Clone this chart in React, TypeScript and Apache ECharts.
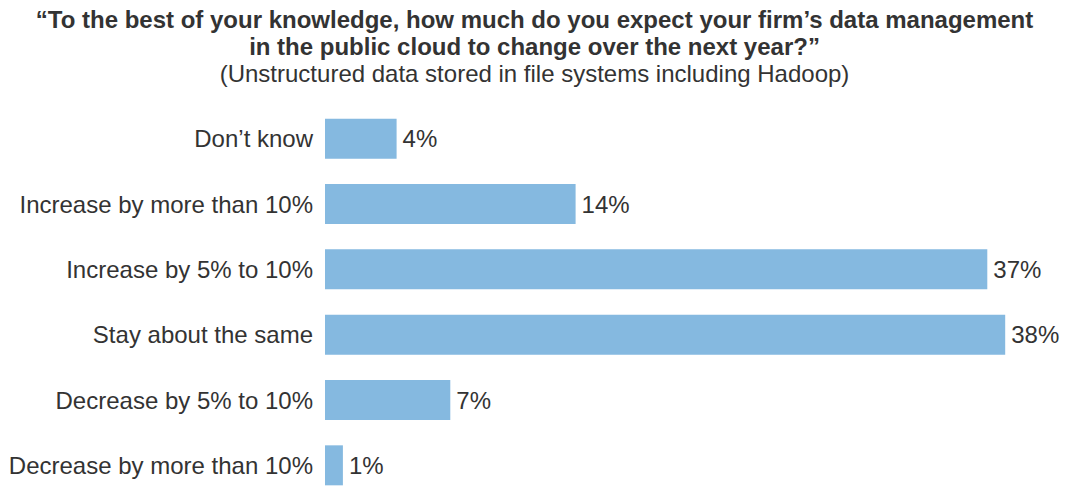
import React, { useEffect, useRef } from "react";
import * as echarts from "echarts";

const categories = [
  "Don’t know",
  "Increase by more than 10%",
  "Increase by 5% to 10%",
  "Stay about the same",
  "Decrease by 5% to 10%",
  "Decrease by more than 10%",
];
const values = [4, 14, 37, 38, 7, 1];
const titleLine1 = "“To the best of your knowledge, how much do you expect your firm’s data management";
const titleLine2 = "in the public cloud to change over the next year?”";
const subtitle = "(Unstructured data stored in file systems including Hadoop)";

const FONT = "Liberation Sans, Arial, sans-serif";

export default function App() {
  const ref = useRef<HTMLDivElement>(null);
  useEffect(() => {
    if (!ref.current) return;
    const chart = echarts.init(ref.current, null, { renderer: "svg" });
    chart.setOption({
      animation: false,
      backgroundColor: "#ffffff",
      title: {
        text: titleLine1 + "\n" + titleLine2,
        subtext: subtitle,
        left: "center",
        top: 6,
        itemGap: 0,
        padding: 0,
        textStyle: {
          fontFamily: FONT,
          fontSize: 24,
          fontWeight: "bold",
          color: "#333333",
          lineHeight: 27,
        },
        subtextStyle: {
          fontFamily: FONT,
          fontSize: 24,
          color: "#333333",
          lineHeight: 26,
        },
      },
      grid: { left: 325, right: 28, top: 106, height: 392, containLabel: false },
      xAxis: {
        type: "value",
        min: 0,
        max: 40,
        show: false,
      },
      yAxis: {
        type: "category",
        inverse: true,
        data: categories,
        axisLine: { show: false },
        axisTick: { show: false },
        axisLabel: {
          margin: 12,
          fontFamily: FONT,
          fontSize: 24,
          color: "#333333",
        },
      },
      series: [
        {
          type: "bar",
          data: values,
          barWidth: 40,
          itemStyle: { color: "#85b9e0" },
          label: {
            show: true,
            position: "right",
            distance: 6,
            formatter: "{c}%",
            fontFamily: FONT,
            fontSize: 24,
            color: "#333333",
          },
        },
      ],
    });
    return () => chart.dispose();
  }, []);
  return (
    <div
      ref={ref}
      style={{ position: "fixed", left: 0, top: 0, width: 1069, height: 520 }}
    />
  );
}
